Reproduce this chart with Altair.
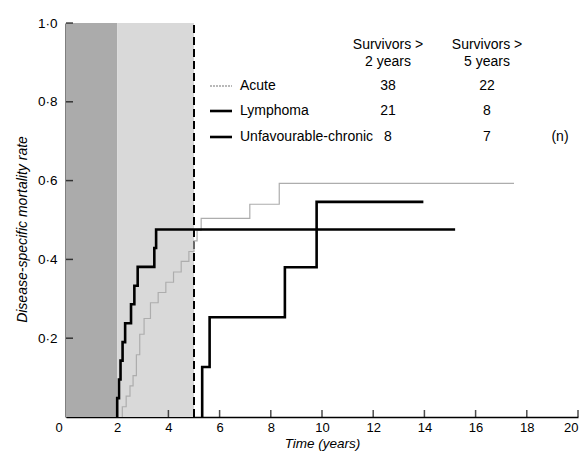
import altair as alt
import pandas as pd

FONT = "Liberation Sans"

# ---- data ----
shade_start = [0, 2]
shade_end = [2, 5]
shade_kind = ["dark", "light"]

cutoff_year = [5]

acute_t = [2.2, 2.2, 2.35, 2.5, 2.62, 2.75, 2.88, 3.05, 3.3, 3.6, 3.9, 4.2, 4.5, 4.8, 5.0, 5.12, 5.28, 7.18, 8.33, 17.5]
acute_v = [0, 0.026, 0.053, 0.079, 0.105, 0.158, 0.21, 0.25, 0.29, 0.316, 0.342, 0.368, 0.395, 0.42, 0.447, 0.474, 0.504, 0.54, 0.593, 0.593]

lym_t = [2.0, 2.0, 2.07, 2.13, 2.21, 2.31, 2.54, 2.67, 2.80, 3.45, 3.52, 15.2]
lym_v = [0, 0.048, 0.095, 0.143, 0.19, 0.238, 0.286, 0.333, 0.381, 0.429, 0.476, 0.476]

unf_t = [5.32, 5.32, 5.61, 8.55, 9.79, 13.96]
unf_v = [0, 0.127, 0.253, 0.38, 0.546, 0.546]

groups = ["Acute", "Lymphoma", "Unfavourable-chronic"]
surv2 = ["38", "21", "8"]
surv5 = ["22", "8", "7"]

x_ticks = [0, 2, 4, 6, 8, 10, 12, 14, 16, 18, 20]
y_ticks = [0.2, 0.4, 0.6, 0.8, 1.0]

W, H = 512, 394

xs = alt.Scale(domain=[0, 20], nice=False, zero=False)
ys = alt.Scale(domain=[0, 1], nice=False)

shade_df = pd.DataFrame({"x0": shade_start, "x1": shade_end, "kind": shade_kind,
                         "y0": [0, 0], "y1": [1, 1]})

shade = alt.Chart(shade_df).mark_rect(stroke=None).encode(
    x=alt.X("x0:Q", scale=xs, axis=alt.Axis(
        values=x_ticks, ticks=False, domainColor="black", domainWidth=1.5,
        labelFont=FONT, labelFontSize=13, labelColor="black", labelPadding=4,
        labelOffset={"condition": {"test": "datum.value === 0", "value": -11}, "value": 0},
        title="Time (years)", titleFont=FONT, titleFontSize=13.5, titleFontStyle="italic",
        titleFontWeight="normal", titleColor="black", titlePadding=2, grid=False)),
    x2="x1:Q",
    y=alt.Y("y0:Q", scale=ys, axis=alt.Axis(
        values=y_ticks, ticks=False, domainColor="black", domainWidth=2,
        labelExpr="replace(format(datum.value, '.1f'), '.', '·')",
        labelFont=FONT, labelFontSize=13.5, labelColor="black", labelPadding=9,
        title="Disease-specific mortality rate", titleFont=FONT, titleFontSize=14,
        titleFontStyle="italic", titleFontWeight="normal", titleColor="black",
        titlePadding=8, titleY=206, grid=False)),
    y2="y1:Q",
    color=alt.Color("kind:N", scale=alt.Scale(domain=["dark", "light"],
                                              range=["#ababab", "#d9d9d9"]), legend=None),
)

cut_df = pd.DataFrame({"x": cutoff_year, "y0": [0], "y1": [1]})
cut = alt.Chart(cut_df).mark_rule(color="black", strokeWidth=2, strokeDash=[8, 4]).encode(
    x=alt.X("x:Q", scale=xs), y=alt.Y("y0:Q", scale=ys), y2="y1:Q")


def step_layer(t, v, color, width, dash=None):
    df = pd.DataFrame({"t": t, "v": v, "i": list(range(len(t)))})
    kw = dict(color=color, strokeWidth=width, interpolate="step-after")
    if dash:
        kw["strokeDash"] = dash
    return alt.Chart(df).mark_line(**kw).encode(
        x=alt.X("t:Q", scale=xs), y=alt.Y("v:Q", scale=ys), order="i:Q")


acute = step_layer(acute_t, acute_v, "#adadad", 1.2)
lym = step_layer(lym_t, lym_v, "black", 2.6)
unf = step_layer(unf_t, unf_v, "black", 2.6)

xt_df = pd.DataFrame({"x": x_ticks[1:]})
xtick = alt.Chart(xt_df).mark_tick(orient="vertical", color="black", size=7, thickness=1.5).encode(
    x=alt.X("x:Q", scale=xs), y=alt.value(H - 3.5))
yt_df = pd.DataFrame({"y": y_ticks})
ytick = alt.Chart(yt_df).mark_tick(orient="horizontal", color="black", size=7, thickness=1.5).encode(
    y=alt.Y("y:Q", scale=ys), x=alt.value(3.5))

# legend / table annotation
layers = []
row_y = [63, 88, 114]
styles = [("#a3a3a3", 1.3, [2, 1]), ("black", 2.6, None), ("black", 2.6, None)]
for k in range(3):
    one = pd.DataFrame({"g": [groups[k]], "a": [surv2[k]], "b": [surv5[k]]})
    col, wd, dash = styles[k]
    rk = dict(color=col, strokeWidth=wd)
    if dash:
        rk["strokeDash"] = dash
    layers.append(alt.Chart(one).mark_rule(**rk).encode(
        x=alt.value(144), x2=alt.value(166), y=alt.value(row_y[k])))
    layers.append(alt.Chart(one).mark_text(align="left", baseline="middle", font=FONT,
                                           fontSize=14, color="black").encode(
        text="g:N", x=alt.value(174), y=alt.value(row_y[k])))
    layers.append(alt.Chart(one).mark_text(align="center", baseline="middle", font=FONT,
                                           fontSize=14, color="black").encode(
        text="a:N", x=alt.value(322), y=alt.value(row_y[k])))
    layers.append(alt.Chart(one).mark_text(align="center", baseline="middle", font=FONT,
                                           fontSize=14, color="black").encode(
        text="b:N", x=alt.value(421), y=alt.value(row_y[k])))

hdr = pd.DataFrame({"h": ["Survivors >"]})
for cx, line2 in [(322, "2 years"), (421, "5 years")]:
    layers.append(alt.Chart(hdr).mark_text(align="center", baseline="middle", font=FONT,
                                           fontSize=14, color="black").encode(
        text="h:N", x=alt.value(cx), y=alt.value(22)))
    layers.append(alt.Chart(pd.DataFrame({"h": [line2]})).mark_text(
        align="center", baseline="middle", font=FONT, fontSize=14, color="black").encode(
        text="h:N", x=alt.value(cx), y=alt.value(39)))
layers.append(alt.Chart(pd.DataFrame({"h": ["(n)"]})).mark_text(
    align="center", baseline="middle", font=FONT, fontSize=14, color="black").encode(
    text="h:N", x=alt.value(494), y=alt.value(114)))

chart = alt.layer(shade, cut, acute, lym, unf, xtick, ytick, *layers).properties(
    width=W, height=H,
    autosize=alt.AutoSizeParams(type="none"),
    padding={"left": 58, "top": 15, "right": 1, "bottom": 35},
    background="white",
).configure_view(strokeWidth=0)

chart.save("out.html", embed_options={"renderer": "svg", "actions": False})
